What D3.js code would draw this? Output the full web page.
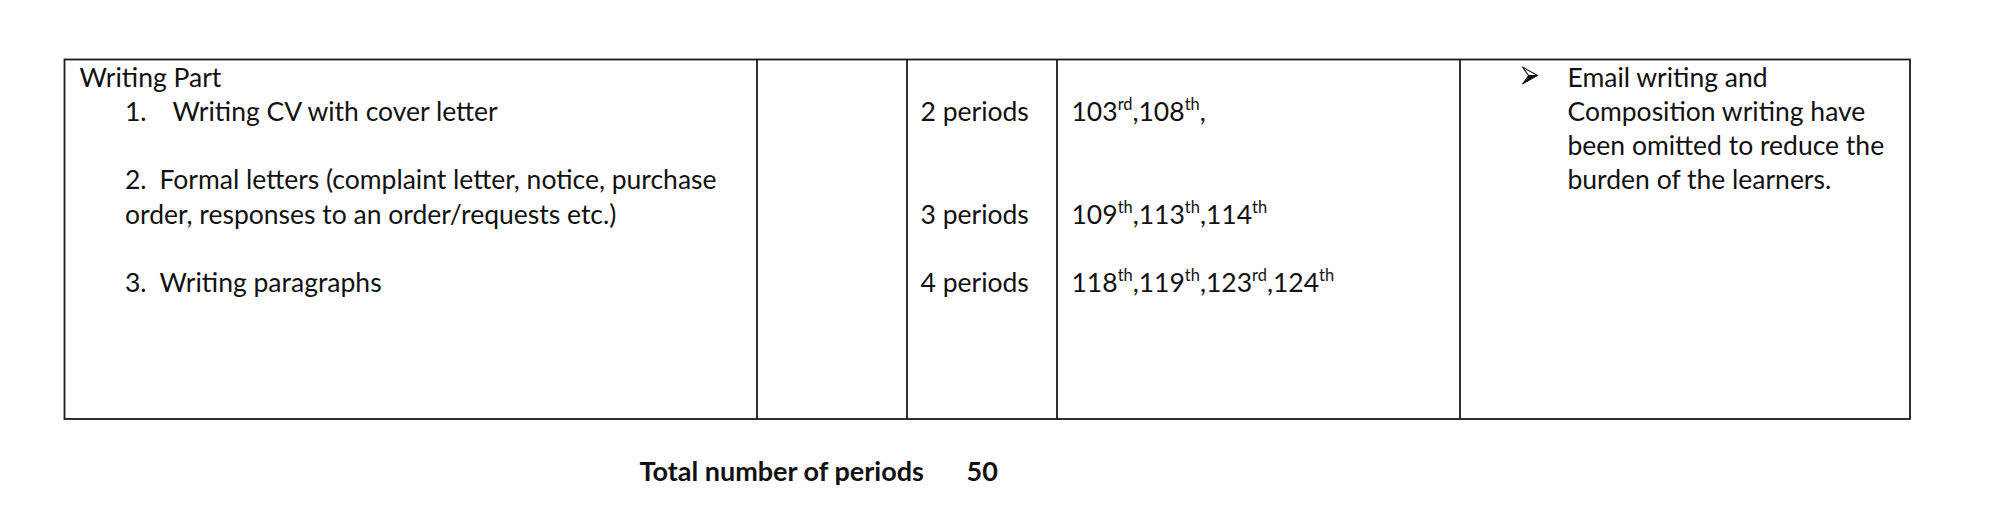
<!DOCTYPE html>
<html>
<head>
<meta charset="utf-8">
<script src="https://cdn.jsdelivr.net/npm/d3@7"></script>
<style>
  html, body { margin: 0; padding: 0; background: #fff; }
  #chart { width: 2000px; height: 520px; }
  text { font-family: Lato, "Open Sans", sans-serif; fill: #111; }
</style>
</head>
<body>
<div id="chart"></div>
<script>
// table content
const heading = "Writing Part";
const topicNumbers = ["1.", "2.", "", "3."];
const topicLines = [
  "Writing CV with cover letter",
  "Formal letters (complaint letter, notice, purchase",
  "order, responses to an order/requests etc.)",
  "Writing paragraphs"
];
const topicRows = [1, 3, 4, 6];      // text line index of each topic line
const periods = [2, 3, 4];
const periodRows = [1, 4, 6];
const periodNumbers = [
  [[103, "rd"], [108, "th"]],
  [[109, "th"], [113, "th"], [114, "th"]],
  [[118, "th"], [119, "th"], [123, "rd"], [124, "th"]]
];
const trailingComma = [true, false, false];
const remarks = [
  "Email writing and",
  "Composition writing have",
  "been omitted to reduce the",
  "burden of the learners."
];
const totalLabel = "Total number of periods";
const totalPeriods = 50;

const W = 2000, H = 520;
const svg = d3.select('#chart').append('svg')
  .attr('width', W)
  .attr('height', H);

// column boundaries of the table
const colEdges = [64.5, 757, 907, 1057, 1460, 1910];
const tableTop = 59.5, tableBottom = 419;

// text line index -> baseline
const lineY = d3.scaleLinear().domain([0, 1]).range([86.5, 120.8]);

const fs = 26.5;
const supShift = fs * 0.42;

// Table borders
const grid = svg.append('g')
  .attr('stroke', '#1a1a1a')
  .attr('stroke-width', 1.8)
  .attr('fill', 'none');

grid.append('rect')
  .attr('x', colEdges[0])
  .attr('y', tableTop)
  .attr('width', colEdges[colEdges.length - 1] - colEdges[0])
  .attr('height', tableBottom - tableTop);

grid.selectAll('line.col')
  .data(colEdges.slice(1, -1))
  .join('line')
  .attr('class', 'col')
  .attr('x1', d => d).attr('x2', d => d)
  .attr('y1', tableTop).attr('y2', tableBottom);

// First column: heading and topics
svg.append('text')
  .attr('x', 79.5)
  .attr('y', lineY(0))
  .attr('font-size', fs)
  .text(heading);

const topicG = svg.append('g');
topicG.selectAll('text.num')
  .data(topicNumbers.map((d, i) => ({ d, row: topicRows[i] })).filter(o => o.d))
  .join('text')
  .attr('class', 'num')
  .attr('x', 125)
  .attr('y', o => lineY(o.row))
  .attr('font-size', fs)
  .text(o => o.d);

topicG.selectAll('text.topic')
  .data(topicLines)
  .join('text')
  .attr('class', 'topic')
  .attr('x', (d, i) => i === 0 ? 172.5 : (i === 2 ? 125 : 159.5))
  .attr('y', (d, i) => lineY(topicRows[i]))
  .attr('font-size', fs)
  .text(d => d);

// Periods column
svg.selectAll('text.periods')
  .data(periods)
  .join('text')
  .attr('class', 'periods')
  .attr('x', 920.5)
  .attr('y', (d, i) => lineY(periodRows[i]))
  .attr('font-size', fs)
  .text(d => `${d} periods`);

// Period numbers with superscript ordinals
const numText = svg.selectAll('text.pnum')
  .data(periodNumbers)
  .join('text')
  .attr('class', 'pnum')
  .attr('x', 1071.5)
  .attr('y', (d, i) => lineY(periodRows[i]))
  .attr('font-size', fs);

numText.each(function (list, i) {
  const t = d3.select(this);
  list.forEach(([n, suf], j) => {
    // step back down to the baseline after the previous superscript
    t.append('tspan')
      .attr('dy', j > 0 ? supShift : 0)
      .text((j > 0 ? ',' : '') + n);
    t.append('tspan')
      .attr('font-size', fs * 0.62)
      .attr('dy', -supShift)
      .text(suf);
  });
  if (trailingComma[i]) {
    t.append('tspan').attr('dy', supShift).text(',');
  }
});

// Remarks column: arrowhead bullet (like the Wingdings one)
const bullet = svg.append('g')
  .attr('transform', `translate(1522.5, ${lineY(0) - 19.5})`);

bullet.append('path')
  .attr('d', 'M0,0 L15,8.5 L6,8.5 Z')
  .attr('fill', '#fff')
  .attr('stroke', '#222')
  .attr('stroke-width', 1.2)
  .attr('stroke-linejoin', 'round');

bullet.append('path')
  .attr('d', 'M6,8.5 L15,8.5 L0,17 Z')
  .attr('fill', '#111')
  .attr('stroke', '#111')
  .attr('stroke-width', 1)
  .attr('stroke-linejoin', 'round');

svg.selectAll('text.remark')
  .data(remarks)
  .join('text')
  .attr('class', 'remark')
  .attr('x', 1567.5)
  .attr('y', (d, i) => lineY(i))
  .attr('font-size', fs)
  .text(d => d);

// Total line below the table
const totalG = svg.append('g')
  .attr('font-size', 27)
  .attr('font-weight', 'bold');

totalG.append('text')
  .attr('x', 639.5)
  .attr('y', 480.5)
  .text(totalLabel);

totalG.append('text')
  .attr('x', 966.5)
  .attr('y', 480.5)
  .text(totalPeriods);
</script>
</body>
</html>
